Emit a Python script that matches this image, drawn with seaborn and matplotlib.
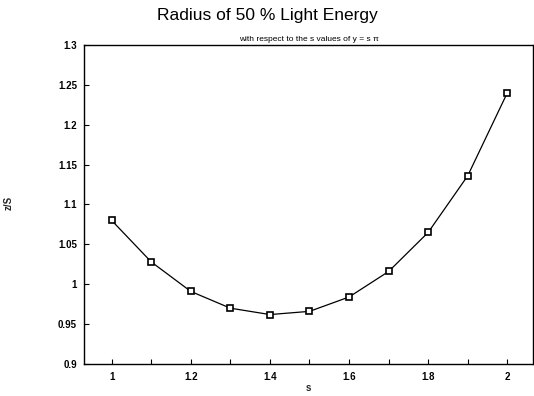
import matplotlib
matplotlib.use("Agg")
import matplotlib.pyplot as plt
import seaborn as sns
import pandas as pd
from matplotlib.ticker import MultipleLocator, FixedLocator

s_values = [1.0, 1.1, 1.2, 1.3, 1.4, 1.5, 1.6, 1.7, 1.8, 1.9, 2.0]
ratio_values = [1.080, 1.028, 0.991, 0.970, 0.962, 0.966, 0.984, 1.016, 1.065, 1.136, 1.240]
x_tick_labels = ["1", "1.2", "1.4", "1.6", "1.8", "2"]
x_tick_pos = [1.0, 1.2, 1.4, 1.6, 1.8, 2.0]
y_tick_pos = [0.9, 0.95, 1.0, 1.05, 1.1, 1.15, 1.2, 1.25, 1.3]
y_tick_labels = ["0.9", "0.95", "1", "1.05", "1.1", "1.15", "1.2", "1.25", "1.3"]

sns.set_theme(style="white")
plt.rcParams['font.family'] = ['Liberation Sans', 'DejaVu Sans']

df = pd.DataFrame({"s": s_values, "r": ratio_values})

fig = plt.figure(figsize=(5.34, 3.96), dpi=100)
ax = fig.add_axes([84/534, 32/396, (533-84)/534, (364-45)/396])

sns.lineplot(data=df, x="s", y="r", ax=ax, color="black", linewidth=0.9,
             marker="s", markersize=5, markerfacecolor="white",
             markeredgecolor="black", markeredgewidth=1.2)

ax.set_xlim(0.93, 2.065)
ax.set_ylim(0.9, 1.3)
ax.xaxis.set_major_locator(FixedLocator(x_tick_pos))
ax.set_xticklabels(x_tick_labels)
ax.xaxis.set_minor_locator(MultipleLocator(0.1))
ax.yaxis.set_major_locator(FixedLocator(y_tick_pos))
ax.set_yticklabels(y_tick_labels)

ax.tick_params(axis="both", which="both", direction="in", length=3.5, width=0.8,
               color="black", labelsize=7, labelcolor="black")
ax.tick_params(axis="x", which="both", bottom=True, top=False, pad=6)
ax.tick_params(axis="y", which="both", left=True, right=False, pad=5)
for lab in ax.get_xticklabels() + ax.get_yticklabels():
    lab.set_fontweight("bold")

for sp in ax.spines.values():
    sp.set_color("black")
    sp.set_linewidth(1.0)

ax.set_xlabel("s", fontsize=7, fontweight="bold")
ax.set_ylabel("z/S", fontsize=7, fontweight="bold")
ax.xaxis.set_label_coords((308-84)/449, (364-383)/319)
ax.yaxis.set_label_coords((14-84)/449, (364-203)/319)

fig.text(0.5, 0.962, "Radius of 50 % Light Energy", ha="center", va="center",
         fontsize=12.5, color="black")
ax.set_title("with respect to the s values of y = s \u03c0", fontsize=6, pad=3,
             color="black")

fig.savefig("out.png", dpi=100)
